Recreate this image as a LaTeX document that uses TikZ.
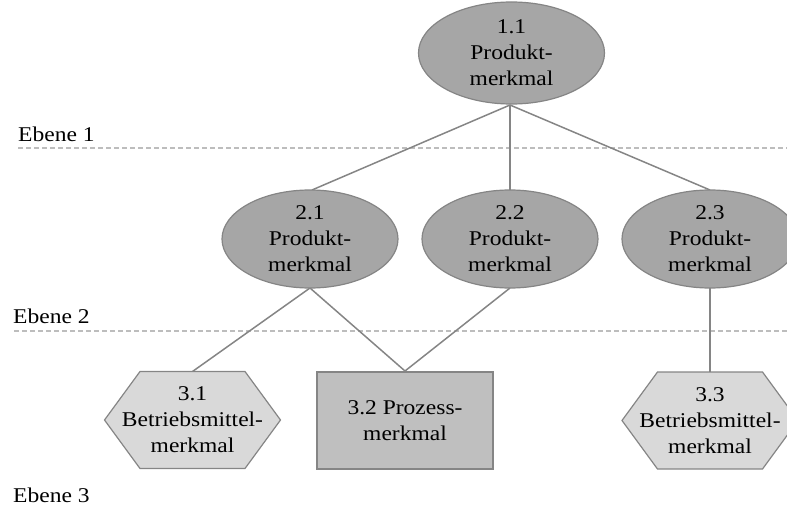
\documentclass[tikz,border=0pt]{standalone}
\usepackage{fontspec}
\setmainfont{Liberation Serif}[FakeStretch=1.12]
\usetikzlibrary{shapes.geometric,calc}
\definecolor{ellfill}{HTML}{A6A6A6}
\definecolor{rectfill}{HTML}{BFBFBF}
\definecolor{hexfill}{HTML}{D9D9D9}
\definecolor{edgegray}{HTML}{858585}
\definecolor{levelgray}{HTML}{BDBDBD}
\begin{document}
\begin{tikzpicture}[x=1pt,y=-1pt,
  lbl/.style={font=\fontsize{21}{26}\selectfont, align=center, inner sep=0pt},
  feature/.style={ellipse, draw=edgegray, line width=1.2pt, fill=ellfill,
    minimum width=176pt, minimum height=98pt, inner sep=0pt, lbl},
  process/.style={rectangle, draw=edgegray, line width=1.2pt, fill=rectfill,
    minimum width=176pt, minimum height=97pt, inner sep=0pt, lbl},
  hexshape/.style={draw=edgegray, line width=1.2pt, fill=hexfill, line join=miter},
  link/.style={draw=edgegray, line width=1.5pt},
  levelline/.style={draw=levelgray, line width=1.4pt, dash pattern=on 5pt off 3pt},
  levellbl/.style={font=\fontsize{21}{26}\selectfont, inner sep=0pt, anchor=base west}
]
\useasboundingbox (0,0) rectangle (787,508);
\clip (0,0) rectangle (787,508);

% level separators
\node[levellbl] (e1) at (18,142) {Ebene 1};
\node[levellbl] (e2) at (13,323) {Ebene 2};
\node[levellbl] (e3) at (13,502) {Ebene 3};
\coordinate (l1a) at (18,148);  \coordinate (l1b) at (787,148);
\coordinate (l2a) at (14,331);  \coordinate (l2b) at (787,331);
\draw[levelline] (l1a) -- (l1b);
\draw[levelline] (l2a) -- (l2b);

% hexagon centres
\coordinate (c31) at (192.5,420);
\coordinate (c33) at (710,420.5);
\coordinate (n31top) at ($(c31)+(0,-48.5)$);
\coordinate (n33top) at ($(c33)+(0,-48.5)$);

% connectors
\coordinate (p11) at (510,105);
\coordinate (p21t) at (312,190);
\coordinate (p22t) at (510,190);
\coordinate (p23t) at (710,190);
\coordinate (p21b) at (310,288);
\coordinate (p22b) at (510,288);
\coordinate (p23b) at (710,288);
\coordinate (p32t) at (405,371);
\draw[link] (p11) -- (p21t);
\draw[link] (p11) -- (p22t);
\draw[link] (p11) -- (p23t);
\draw[link] (p21b) -- (n31top);
\draw[link] (p21b) -- (p32t);
\draw[link] (p22b) -- (p32t);
\draw[link] (p23b) -- (n33top);

% product features
\node[feature, minimum width=186pt, minimum height=102pt] (n11) at (511.5,53) {1.1\\Produkt-\\merkmal};
\node[feature] (n21) at (310,239) {2.1\\Produkt-\\merkmal};
\node[feature] (n22) at (510,239) {2.2\\Produkt-\\merkmal};
\node[feature] (n23) at (710,239) {2.3\\Produkt-\\merkmal};

% process feature
\node[process] (n32) at (405,420.5) {3.2 Prozess-\\merkmal};

% equipment features
\draw[hexshape, shift={(c31)}] (-88,0) -- (-52.5,-48.5) -- (52.5,-48.5) -- (88,0) -- (52.5,48.5) -- (-52.5,48.5) -- cycle;
\draw[hexshape, shift={(c33)}] (-88,0) -- (-52.5,-48.5) -- (52.5,-48.5) -- (88,0) -- (52.5,48.5) -- (-52.5,48.5) -- cycle;
\node[lbl] (n31) at (c31) {3.1\\Betriebsmittel-\\merkmal};
\node[lbl] (n33) at (c33) {3.3\\Betriebsmittel-\\merkmal};
\end{tikzpicture}
\end{document}
